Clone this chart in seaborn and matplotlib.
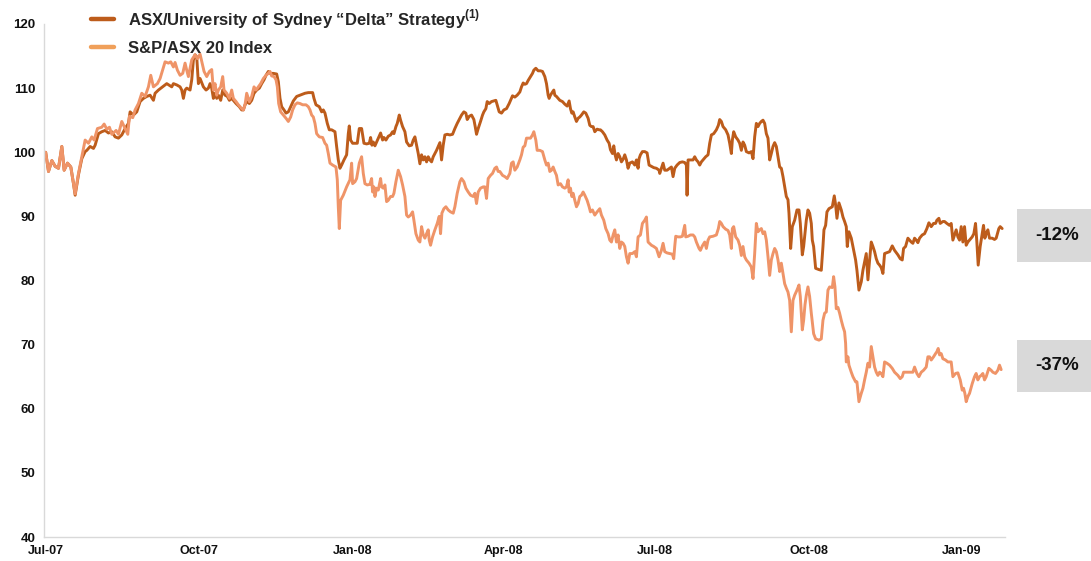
import matplotlib
matplotlib.use("Agg")
import matplotlib.pyplot as plt
import seaborn as sns
import pandas as pd
from matplotlib.lines import Line2D
from matplotlib.patches import Rectangle

# ---------------- data (days since 2007-07-01, index value) ----------------
start_date = "2007-07-01"

delta_days = [0, 1.7, 3.7, 5.7, 7.7, 9.7, 11.1, 13.1, 15.1, 16.7, 17.7, 19.7, 21.7, 23.7, 24.7, 26.7, 28.7, 29.7,
    31.7, 33.7, 35.7, 37.7, 39.7, 41.7, 43.7, 45.7, 47.7, 49.7, 50.7, 52.7, 54.7, 56.7, 58.7, 60.7, 62.7, 64.7,
    65.7, 67.7, 70.7, 72.7, 75.7, 76.7, 78.7, 80.7, 81.7, 82.7, 83.7, 84.7, 86.7, 87.7, 88.7, 89.7, 90.7, 91.7,
    92.7, 94.7, 96.3, 97.7, 98.7, 99.7, 100.7, 101.7, 102.7, 103.7, 105.1, 106.3, 107.7, 109.1, 110.3, 111.7,
    112.7, 114.3, 116.3, 117.7, 118.7, 119.7, 120.7, 122.3, 123.7, 125.1, 126.7, 128.3, 129.7, 131.1, 132.3,
    133.7, 134.7, 136.7, 138.7, 139.7, 140.7, 141.7, 143.1, 144.3, 145.7, 147.1, 148.7, 150.7, 152.7, 155.7,
    157.7, 160.3, 161.1, 162.3, 164.3, 165.7, 166.7, 167.7, 169.1, 170.3, 171.7, 173.7, 174.7, 175.7, 176.7,
    177.7, 179.1, 180.7, 181.7, 182.3, 183.1, 184.3, 185.7, 187.1, 188.3, 189.7, 191.1, 192.7, 194.3, 195.1,
    195.9, 196.7, 197.7, 198.7, 199.7, 201.1, 202.3, 203.1, 204.3, 205.7, 207.1, 208.3, 209.1, 210.3, 211.1,
    212.3, 213.1, 214.3, 215.7, 216.7, 218.3, 219.7, 220.7, 221.7, 222.7, 223.7, 224.7, 225.7, 226.7, 227.7,
    228.7, 229.7, 230.7, 231.7, 232.7, 234.7, 236.7, 237.7, 238.7, 239.7, 241.1, 242.7, 244.3, 245.7, 247.1,
    248.7, 249.7, 251.1, 252.3, 253.1, 254.3, 255.7, 257.1, 257.9, 258.7, 259.7, 261.1, 262.3, 263.1, 264.3,
    265.1, 266.3, 267.7, 269.1, 270.3, 271.1, 272.3, 273.7, 275.1, 276.7, 278.3, 280.3, 281.7, 283.1, 284.7,
    285.7, 286.7, 287.7, 288.7, 289.7, 291.1, 292.3, 293.1, 294.3, 295.7, 297.1, 298.3, 299.7, 300.7, 301.7,
    302.3, 303.1, 304.3, 305.1, 305.7, 306.7, 307.7, 308.7, 310.3, 311.7, 313.1, 314.3, 315.1, 315.9, 316.7,
    317.7, 318.7, 319.7, 320.7, 321.7, 323.1, 324.3, 325.7, 326.7, 327.7, 328.7, 329.7, 331.1, 332.3, 333.1,
    334.3, 335.7, 337.1, 338.3, 339.1, 340.3, 341.1, 341.9, 342.7, 343.7, 344.7, 345.7, 346.7, 347.7, 348.7,
    349.7, 350.7, 352.3, 353.7, 354.7, 355.7, 356.3, 357.1, 358.3, 359.7, 361.1, 362.3, 363.7, 365.1, 366.7,
    368.3, 368.7, 369.7, 370.7, 371.7, 373.1, 374.7, 375.7, 376.7, 377.7, 379.1, 380.7, 382.3, 383.7, 384.7,
    385.1, 385.7, 387.1, 388.7, 389.7, 390.7, 391.7, 392.7, 393.7, 394.7, 396.3, 397.7, 398.7, 399.7, 401.1,
    402.7, 403.9, 404.7, 405.7, 406.7, 408.3, 409.7, 410.7, 411.7, 412.3, 413.1, 414.3, 415.7, 416.7, 417.7,
    418.7, 419.7, 420.7, 422.3, 423.7, 424.7, 425.7, 426.7, 427.7, 428.7, 429.7, 430.7, 431.7, 432.7, 433.7,
    434.7, 435.7, 436.7, 437.7, 438.7, 439.7, 440.7, 441.7, 442.7, 443.7, 444.7, 445.7, 446.3, 446.7, 447.3,
    448.3, 449.7, 451.1, 452.3, 453.1, 454.3, 455.1, 455.9, 456.7, 457.7, 458.7, 459.7, 460.3, 461.1, 462.3,
    464.3, 465.7, 466.7, 467.3, 468.3, 469.1, 470.3, 472.3, 473.5, 474.3, 475.1, 476.3, 477.7, 478.7, 479.7,
    480.7, 481.3, 482.3, 483.7, 484.7, 486.3, 487.1, 488.3, 489.7, 490.7, 491.7, 492.7, 493.7, 494.7, 495.7,
    496.7, 497.7, 498.7, 499.7, 500.7, 501.7, 502.7, 503.7, 504.7, 506.7, 508.3, 509.7, 511.7, 513.1, 514.3,
    515.1, 516.3, 517.7, 518.7, 519.7, 520.7, 521.7, 522.7, 523.7, 524.7, 526.3, 527.7, 529.1, 530.3, 531.7,
    533.1, 534.3, 535.1, 536.3, 537.1, 538.7, 539.7, 541.1, 542.7, 543.7, 544.7, 545.7, 546.7, 547.7, 548.7,
    549.7, 550.7, 551.7, 552.7, 553.7, 554.7, 556.3, 557.3, 558.3, 559.1, 559.9, 561.1, 562.3, 563.1, 563.9,
    564.7, 565.7, 566.7, 568.3, 569.7, 570.7, 572.3, 573.1, 574.3]
delta_vals = [100.0, 97.0, 98.7, 97.8, 97.5, 100.9, 97.2, 98.3, 97.7, 95.1, 93.3, 96.5, 99.0, 100.1, 100.3, 100.9,
    100.6, 101.1, 102.9, 103.2, 103.4, 103.0, 103.2, 102.4, 102.2, 102.7, 103.7, 104.5, 106.3, 105.8, 106.3,
    107.9, 108.4, 108.7, 108.9, 108.1, 109.2, 109.7, 110.3, 110.7, 110.2, 110.7, 110.5, 110.2, 109.7, 108.4,
    109.7, 110.0, 109.7, 111.3, 114.4, 115.2, 114.9, 110.7, 111.5, 110.2, 109.7, 110.0, 110.7, 110.0, 108.4,
    109.2, 108.4, 108.9, 108.1, 109.7, 108.9, 108.7, 108.1, 108.4, 108.1, 107.6, 107.1, 106.6, 106.6, 107.4,
    107.9, 107.6, 108.1, 109.2, 109.7, 110.0, 110.7, 111.3, 112.0, 112.6, 112.3, 112.3, 112.2, 111.0, 108.4,
    107.1, 106.6, 106.1, 106.3, 107.1, 108.0, 108.7, 108.9, 109.2, 109.3, 109.3, 108.4, 107.4, 107.1, 106.3,
    106.6, 106.1, 104.5, 103.5, 103.5, 103.2, 100.9, 98.8, 97.5, 98.0, 98.8, 99.6, 102.9, 104.1, 101.9, 101.4,
    101.4, 101.4, 103.7, 103.7, 101.4, 101.3, 101.4, 102.3, 101.1, 101.6, 101.0, 101.6, 102.2, 103.0, 101.9,
    102.3, 101.9, 102.5, 102.7, 103.2, 102.9, 104.0, 104.5, 105.8, 105.0, 104.0, 103.2, 101.6, 101.0, 101.1,
    101.9, 102.4, 101.1, 99.8, 98.2, 99.6, 98.8, 99.3, 98.5, 99.3, 98.8, 98.5, 99.3, 100.3, 101.5, 98.8, 101.1,
    102.7, 102.8, 102.7, 102.8, 103.7, 104.5, 105.3, 105.8, 106.3, 106.1, 105.1, 105.6, 105.8, 105.1, 104.0,
    102.8, 103.7, 104.8, 105.8, 106.3, 106.8, 107.9, 107.6, 107.9, 108.0, 108.1, 107.4, 106.3, 106.1, 106.6,
    106.8, 107.6, 108.8, 108.6, 108.9, 109.4, 110.2, 110.8, 110.6, 110.7, 111.2, 111.8, 112.3, 112.8, 113.1,
    112.7, 112.7, 112.6, 111.8, 110.7, 108.9, 108.4, 108.9, 109.4, 109.7, 108.9, 108.7, 108.4, 108.1, 107.9,
    107.5, 107.2, 108.0, 106.8, 106.1, 106.3, 105.5, 104.8, 105.3, 105.5, 105.8, 106.3, 106.1, 105.3, 104.2,
    104.0, 104.0, 103.2, 103.6, 103.5, 103.5, 103.2, 102.7, 101.9, 101.4, 100.4, 99.8, 101.0, 99.6, 98.8, 99.8,
    99.3, 98.5, 98.9, 99.6, 98.8, 97.5, 98.3, 98.5, 98.0, 98.8, 97.5, 99.0, 99.6, 100.1, 100.1, 99.9, 98.0,
    97.8, 97.6, 97.5, 97.2, 96.7, 97.5, 98.3, 97.2, 97.2, 97.5, 97.7, 96.2, 97.5, 98.0, 98.4, 98.5, 98.4, 98.0,
    93.3, 98.8, 98.8, 98.8, 99.3, 98.8, 98.5, 98.0, 98.5, 98.8, 99.3, 99.6, 101.4, 102.7, 102.9, 103.5, 104.2,
    105.1, 104.8, 104.0, 103.5, 102.7, 101.4, 99.8, 101.9, 103.2, 102.4, 101.9, 101.4, 100.3, 101.6, 101.1,
    100.1, 99.9, 100.1, 99.0, 102.4, 104.5, 104.0, 104.5, 104.8, 105.0, 104.5, 102.9, 102.2, 98.8, 99.8, 100.9,
    101.5, 100.9, 99.3, 97.7, 97.5, 96.2, 94.6, 93.1, 92.6, 90.5, 88.4, 85.0, 88.4, 89.4, 91.0, 91.0, 88.9,
    84.0, 85.3, 87.3, 89.4, 91.0, 90.5, 88.9, 86.3, 85.3, 81.9, 81.7, 81.6, 85.3, 87.9, 88.6, 90.7, 91.2, 91.5,
    93.2, 91.8, 89.7, 92.1, 91.0, 89.9, 89.2, 88.4, 85.3, 87.6, 86.6, 85.3, 83.2, 81.6, 78.5, 79.8, 81.6, 82.9,
    84.2, 80.1, 83.2, 86.0, 85.3, 84.5, 83.4, 82.7, 82.4, 82.0, 81.1, 84.2, 84.3, 84.5, 85.4, 84.7, 84.0, 83.4,
    83.2, 85.0, 85.3, 86.6, 86.3, 86.0, 85.8, 86.6, 86.3, 85.9, 86.6, 87.1, 87.3, 88.1, 89.0, 88.4, 88.9, 88.9,
    89.4, 89.7, 88.9, 89.2, 89.2, 88.9, 88.6, 88.9, 86.3, 87.1, 87.9, 86.8, 86.3, 88.4, 86.0, 88.4, 85.5, 86.0,
    86.3, 86.8, 87.3, 88.9, 86.0, 82.4, 85.3, 87.3, 88.6, 86.6, 87.3, 87.9, 86.6, 86.6, 86.4, 86.6, 88.1, 88.4,
    88.1]

index_days = [0, 1.7, 3.7, 5.7, 7.7, 9.7, 11.1, 13.1, 15.1, 16.7, 17.7, 19.7, 21.7, 23.7, 25.7, 27.7, 29.1, 31.1,
    33.7, 35.1, 36.7, 38.3, 39.7, 42.3, 43.7, 45.7, 47.7, 49.3, 50.3, 52.3, 53.7, 55.7, 57.7, 59.7, 61.7, 63.1,
    64.7, 67.1, 68.7, 71.7, 73.7, 75.1, 76.7, 77.7, 79.1, 80.7, 82.3, 83.7, 84.7, 85.7, 87.7, 89.7, 91.1, 92.7,
    95.1, 96.7, 98.3, 99.7, 100.7, 101.7, 102.7, 103.7, 105.1, 106.3, 107.1, 108.7, 110.3, 111.7, 112.7, 114.3,
    115.7, 116.7, 117.7, 118.7, 119.7, 120.7, 122.3, 123.7, 125.1, 126.3, 127.7, 129.1, 130.7, 132.3, 133.7,
    134.7, 135.7, 137.1, 138.3, 139.1, 139.9, 141.1, 142.7, 144.3, 145.7, 147.1, 148.3, 149.7, 151.1, 152.7,
    154.3, 156.3, 157.7, 158.7, 159.7, 160.7, 161.7, 162.7, 164.3, 166.3, 167.7, 168.7, 169.7, 170.7, 172.3,
    174.3, 175.1, 175.7, 176.3, 177.1, 178.7, 180.7, 182.7, 183.7, 184.3, 185.7, 186.7, 188.3, 189.7, 190.7,
    191.7, 193.1, 194.7, 195.7, 196.3, 197.1, 197.7, 198.7, 199.7, 201.1, 201.7, 202.7, 203.7, 204.7, 205.7,
    207.1, 208.3, 209.1, 210.3, 211.7, 213.1, 214.3, 215.7, 216.7, 217.7, 219.1, 220.3, 221.1, 222.3, 223.7,
    224.7, 225.7, 226.7, 227.7, 228.7, 229.7, 230.3, 231.1, 232.3, 233.7, 235.1, 236.3, 237.1, 237.9, 239.1,
    240.3, 241.7, 243.1, 244.7, 245.7, 247.1, 248.7, 249.7, 251.1, 252.3, 253.7, 255.1, 256.7, 257.7, 258.7,
    259.7, 261.1, 262.7, 263.7, 264.7, 265.7, 267.1, 268.3, 269.7, 270.7, 271.7, 272.7, 274.3, 275.7, 277.1,
    278.7, 279.7, 280.7, 281.7, 283.1, 284.7, 285.7, 286.7, 287.7, 288.7, 289.7, 291.1, 292.3, 293.1, 294.3,
    295.1, 296.7, 298.3, 299.7, 300.7, 301.7, 302.7, 303.7, 304.7, 305.7, 306.7, 307.7, 309.1, 310.3, 311.7,
    312.7, 313.7, 314.3, 315.1, 315.9, 316.7, 317.7, 318.7, 319.7, 320.7, 321.7, 322.7, 323.7, 325.1, 326.3,
    327.1, 328.3, 329.7, 331.1, 332.7, 333.7, 335.1, 336.3, 337.7, 338.7, 339.7, 340.7, 341.7, 342.7, 343.7,
    344.7, 345.7, 346.7, 347.7, 348.7, 349.7, 350.7, 352.3, 353.7, 354.7, 355.7, 357.1, 358.3, 359.7, 360.7,
    361.7, 363.7, 365.1, 366.7, 368.3, 369.7, 370.7, 371.7, 373.1, 374.7, 376.3, 377.1, 377.7, 378.3, 379.7,
    381.1, 382.3, 383.1, 383.7, 384.3, 385.7, 387.1, 388.7, 389.7, 390.7, 392.3, 393.1, 394.3, 395.7, 396.7,
    397.7, 398.7, 400.7, 402.7, 403.9, 404.7, 405.7, 406.7, 408.3, 409.7, 410.7, 411.7, 412.3, 413.1, 414.3,
    415.7, 416.7, 417.7, 418.7, 419.7, 420.7, 422.3, 423.7, 424.7, 425.7, 426.7, 427.7, 428.7, 429.7, 430.7,
    431.7, 432.7, 433.7, 434.7, 435.7, 436.7, 437.7, 438.7, 439.7, 440.7, 441.7, 442.7, 443.7, 444.7, 445.7,
    446.7, 447.7, 448.7, 449.7, 451.1, 452.3, 453.1, 454.3, 455.1, 455.9, 456.7, 457.7, 458.7, 459.7, 461.1,
    462.3, 464.3, 465.7, 466.7, 467.7, 468.7, 469.7, 470.7, 472.3, 473.1, 473.9, 474.7, 475.7, 476.7, 477.7,
    478.7, 479.7, 480.3, 480.7, 481.7, 482.3, 483.7, 484.7, 486.3, 487.1, 488.3, 489.7, 490.7, 491.7, 492.7,
    493.7, 494.7, 495.7, 496.7, 497.7, 498.7, 499.7, 500.7, 501.7, 502.7, 503.7, 505.1, 506.7, 508.3, 509.7,
    511.7, 513.1, 514.3, 515.1, 516.7, 518.7, 520.7, 521.7, 523.1, 524.3, 525.7, 527.1, 528.7, 529.7, 530.7,
    531.7, 533.1, 534.3, 535.1, 535.9, 536.7, 537.7, 538.7, 540.3, 541.7, 543.7, 544.7, 546.3, 547.7, 549.1,
    550.3, 551.1, 551.9, 552.7, 553.7, 554.7, 556.3, 557.7, 558.7, 559.7, 560.7, 561.7, 562.7, 563.7, 564.7,
    566.3, 567.7, 568.7, 570.3, 571.7, 572.7, 573.7]
index_vals = [100.0, 97.0, 98.7, 97.8, 97.5, 100.9, 97.2, 98.3, 97.7, 95.1, 93.5, 96.7, 99.3, 101.9, 101.4, 102.4,
    101.9, 103.7, 103.9, 104.4, 103.6, 103.9, 102.8, 103.4, 102.8, 104.8, 103.7, 102.8, 105.6, 105.4, 106.6,
    107.6, 109.2, 108.7, 110.2, 112.0, 110.2, 110.7, 111.5, 114.1, 113.9, 114.1, 113.3, 114.0, 112.8, 112.0,
    112.3, 113.9, 112.8, 111.8, 114.4, 115.2, 114.6, 115.3, 112.6, 111.8, 112.6, 112.9, 109.7, 110.7, 108.9,
    109.7, 110.2, 111.8, 109.7, 109.2, 108.4, 109.7, 108.4, 107.9, 107.4, 107.1, 106.8, 106.6, 107.4, 109.2,
    107.9, 108.7, 110.2, 109.7, 110.2, 110.7, 111.5, 112.0, 112.3, 112.6, 111.9, 111.8, 111.3, 110.2, 107.6,
    106.3, 105.8, 105.3, 104.8, 105.5, 106.6, 107.4, 107.7, 107.6, 107.4, 107.4, 107.1, 106.6, 105.8, 105.5,
    104.5, 102.9, 102.4, 102.3, 101.4, 101.1, 99.8, 98.3, 98.0, 97.7, 95.7, 91.5, 88.1, 92.5, 93.3, 94.6, 95.7,
    98.3, 95.1, 95.4, 95.9, 98.3, 99.3, 96.7, 95.1, 94.9, 95.0, 95.9, 93.8, 94.6, 93.1, 94.4, 94.1, 95.9, 94.6,
    94.4, 94.9, 92.3, 92.5, 93.1, 93.1, 93.6, 95.4, 97.2, 96.2, 94.9, 93.1, 90.2, 89.9, 90.2, 90.7, 89.4, 87.3,
    86.3, 86.0, 88.4, 87.1, 86.6, 87.3, 87.9, 86.3, 85.5, 86.8, 87.9, 88.9, 90.0, 87.3, 90.5, 91.2, 91.5, 91.0,
    90.7, 90.5, 91.5, 93.6, 95.4, 95.9, 95.4, 94.4, 93.8, 93.3, 93.1, 93.6, 92.0, 93.8, 94.4, 94.6, 94.6, 92.8,
    95.9, 96.4, 96.7, 97.5, 97.7, 97.0, 97.0, 96.4, 96.2, 95.9, 96.7, 98.3, 98.5, 97.2, 97.7, 98.8, 99.6,
    100.8, 101.0, 102.2, 102.2, 102.2, 102.7, 103.2, 101.9, 100.3, 100.3, 100.1, 98.8, 98.0, 98.3, 97.0, 97.2,
    97.7, 97.0, 96.4, 94.9, 95.1, 94.6, 94.4, 94.6, 95.7, 93.8, 94.4, 93.1, 93.6, 92.5, 91.5, 92.0, 93.1, 93.3,
    93.8, 93.3, 92.5, 91.5, 90.7, 91.0, 90.2, 90.7, 91.2, 90.2, 89.4, 88.1, 87.3, 86.3, 86.0, 87.1, 87.9, 86.0,
    87.1, 85.0, 86.0, 85.8, 85.3, 83.7, 82.7, 84.2, 84.2, 84.5, 83.7, 86.8, 87.1, 88.9, 89.4, 89.9, 86.0, 85.5,
    85.3, 85.0, 83.7, 84.7, 85.8, 84.5, 84.3, 84.2, 84.1, 83.4, 85.3, 86.9, 86.8, 86.8, 86.9, 87.9, 88.6, 86.8,
    86.9, 87.1, 87.1, 86.8, 86.0, 85.0, 84.7, 85.4, 86.0, 85.0, 86.3, 86.8, 86.9, 87.1, 88.1, 89.2, 88.9, 88.4,
    88.0, 87.8, 87.1, 85.0, 88.1, 88.4, 86.8, 86.3, 85.5, 83.9, 85.3, 83.7, 83.2, 82.7, 82.1, 80.3, 84.2, 88.9,
    87.6, 87.9, 88.1, 87.3, 87.6, 86.3, 83.7, 80.8, 83.2, 84.2, 85.0, 84.5, 83.2, 81.4, 82.7, 81.1, 79.5, 78.8,
    78.2, 76.9, 72.0, 76.9, 77.7, 78.5, 79.3, 77.5, 72.3, 73.8, 76.2, 77.7, 79.0, 77.5, 74.9, 71.7, 70.9, 70.7,
    70.9, 73.8, 74.9, 75.1, 78.5, 79.0, 78.9, 80.6, 79.0, 75.6, 75.8, 74.9, 73.8, 72.8, 72.0, 70.2, 67.3, 68.1,
    66.8, 65.7, 65.0, 64.2, 64.2, 61.1, 62.4, 63.2, 64.5, 65.7, 67.1, 66.5, 69.7, 68.1, 66.5, 65.7, 65.2, 65.7,
    65.5, 65.0, 67.3, 67.1, 66.8, 66.3, 65.7, 65.2, 64.7, 65.0, 65.7, 65.7, 65.7, 65.7, 66.5, 65.5, 65.0, 65.7,
    66.0, 66.5, 68.1, 68.1, 67.6, 68.1, 68.6, 68.9, 69.4, 68.4, 68.6, 67.8, 67.6, 67.3, 67.3, 65.0, 65.5, 65.6,
    64.5, 62.9, 63.2, 62.4, 61.1, 61.9, 62.4, 63.9, 65.0, 65.5, 64.5, 65.0, 65.2, 65.5, 64.5, 65.0, 66.3, 66.0,
    65.7, 65.5, 66.0, 66.8, 66.1]

series_names = ["ASX/University of Sydney \u201cDelta\u201d Strategy", "S&P/ASX 20 Index"]
series_colors = ["#BD5C1B", "#EF9468"]
legend_colors = ["#BD5C1B", "#F0A05A"]
box_labels = ["-12%", "-37%"]
y_ticks = [40, 50, 60, 70, 80, 90, 100, 110, 120]
x_tick_dates = ["2007-07-01", "2007-10-01", "2008-01-01", "2008-04-01", "2008-07-01", "2008-10-01", "2009-01-01"]
x_tick_labels = ["Jul-07", "Oct-07", "Jan-08", "Apr-08", "Jul-08", "Oct-08", "Jan-09"]

# ---------------- build table ----------------
t0 = pd.Timestamp(start_date)
df = pd.concat([
    pd.DataFrame({"date": t0 + pd.to_timedelta(delta_days, unit="D"), "value": delta_vals, "series": series_names[0]}),
    pd.DataFrame({"date": t0 + pd.to_timedelta(index_days, unit="D"), "value": index_vals, "series": series_names[1]}),
], ignore_index=True)

sns.set_theme(style="white")
plt.rcParams["font.family"] = ["Liberation Sans", "DejaVu Sans"]
plt.rcParams["mathtext.fontset"] = "custom"
plt.rcParams["mathtext.bf"] = "Liberation Sans:bold"
plt.rcParams["mathtext.rm"] = "Liberation Sans:bold"

W, H = 1091, 561
fig = plt.figure(figsize=(W / 100, H / 100), dpi=100)
ax = fig.add_axes([44 / W, 1 - 537 / H, (1005 - 44) / W, (537 - 24) / H])

sns.lineplot(data=df, x="date", y="value", hue="series", hue_order=series_names,
             palette=dict(zip(series_names, series_colors)), linewidth=2.1, ax=ax,
             legend=False, estimator=None, sort=False)

ax.set_ylim(40, 120)
ax.set_xlim(t0 - pd.Timedelta(days=1), t0 + pd.Timedelta(days=576))
ax.set_yticks(y_ticks)
ax.set_yticklabels([str(v) for v in y_ticks], fontsize=9.5, fontweight="bold", color="#111111")
ax.set_xticks(pd.to_datetime(x_tick_dates))
ax.set_xticklabels(x_tick_labels, fontsize=9, fontweight="bold", color="#111111")
ax.set_xlabel("")
ax.set_ylabel("")
for s in ["top", "right"]:
    ax.spines[s].set_visible(False)
for s in ["left", "bottom"]:
    ax.spines[s].set_color("#D9D9D9")
    ax.spines[s].set_linewidth(1.0)
ax.tick_params(axis="both", which="major", length=3, width=0.8, color="#D9D9D9", direction="out")
ax.tick_params(axis="y", pad=3)
ax.tick_params(axis="x", pad=3)
ax.grid(False)

# legend
handles = [Line2D([0], [0], color=c, lw=3.2) for c in legend_colors]
labels = [series_names[0] + r"$^{\mathbf{(1)}}$", series_names[1]]
fig.legend(handles, labels, loc="upper left", bbox_to_anchor=(76 / W, 1 + 8 / H), frameon=False,
           handlelength=1.35, handletextpad=0.9, labelspacing=0.6,
           prop={"family": "Liberation Sans", "weight": "bold", "size": 12})

# value boxes
for lab, (y0, y1) in zip(box_labels, [(209, 262), (340, 392)]):
    fig.patches.append(Rectangle((1017 / W, 1 - y1 / H), (W - 1017) / W, (y1 - y0) / H,
                                 transform=fig.transFigure, facecolor="#D9D9D9", edgecolor="none"))
    fig.text(1057 / W, 1 - (y0 + y1) / 2 / H, lab, ha="center", va="center", fontsize=13.5,
             fontweight="bold", color="#111111")

fig.savefig("out.png", dpi=100)
